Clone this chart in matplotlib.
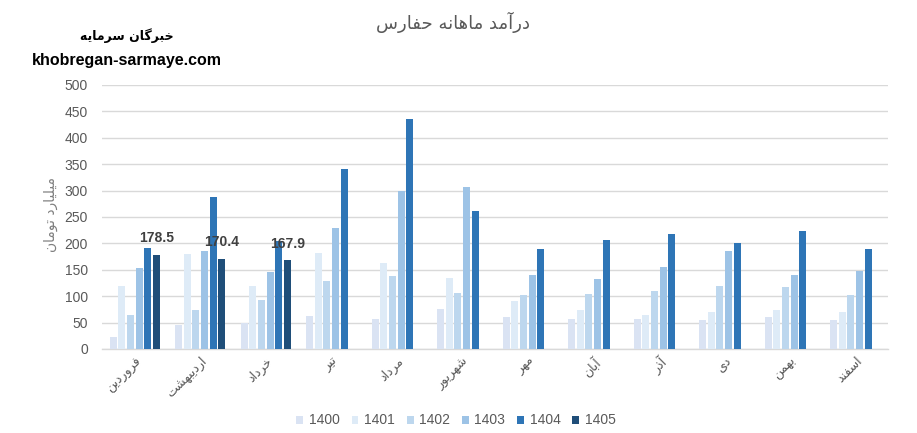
import matplotlib
matplotlib.use('Agg')
import matplotlib.pyplot as plt
from matplotlib.patches import Patch
import numpy as np

# ---------------- data ----------------
months = ['فروردین', 'اردیبهشت', 'خرداد', 'تیر', 'مرداد', 'شهریور',
          'مهر', 'آبان', 'آذر', 'دی', 'بهمن', 'اسفند']
years = ['1400', '1401', '1402', '1403', '1404', '1405']
v1400 = [23, 46, 49, 63, 56, 75, 61, 57, 57, 54, 61, 54]
v1401 = [120, 179, 120, 182, 162, 135, 90, 73, 65, 71, 73, 71]
v1402 = [65, 73, 93, 129, 139, 107, 103, 105, 109, 120, 118, 103]
v1403 = [154, 186, 145, 230, 300, 307, 141, 133, 156, 186, 141, 148]
v1404 = [192, 287, 205, 340, 436, 262, 190, 207, 217, 201, 224, 190]
v1405 = [178.5, 170.4, 167.9]
yticks = [0, 50, 100, 150, 200, 250, 300, 350, 400, 450, 500]
title = 'درآمد ماهانه حفارس'
ylabel = 'میلیارد تومان'
brand_fa = 'خبرگان سرمایه'
brand_en = 'khobregan-sarmaye.com'

series = [v1400, v1401, v1402, v1403, v1404, v1405]
colors = ['#dae3f3', '#deebf7', '#bdd7ee', '#9dc3e6', '#2e75b6', '#1f4e79']

# ------------- minimal Persian shaping (presentation forms) -------------
FORMS = {
    'ا': ('\uFE8D', '\uFE8E', None, None),
    'آ': ('\uFE81', '\uFE82', None, None),
    'ب': ('\uFE8F', '\uFE90', '\uFE91', '\uFE92'),
    'پ': ('\uFB56', '\uFB57', '\uFB58', '\uFB59'),
    'ت': ('\uFE95', '\uFE96', '\uFE97', '\uFE98'),
    'ث': ('\uFE99', '\uFE9A', '\uFE9B', '\uFE9C'),
    'ج': ('\uFE9D', '\uFE9E', '\uFE9F', '\uFEA0'),
    'چ': ('\uFB7A', '\uFB7B', '\uFB7C', '\uFB7D'),
    'ح': ('\uFEA1', '\uFEA2', '\uFEA3', '\uFEA4'),
    'خ': ('\uFEA5', '\uFEA6', '\uFEA7', '\uFEA8'),
    'د': ('\uFEA9', '\uFEAA', None, None),
    'ذ': ('\uFEAB', '\uFEAC', None, None),
    'ر': ('\uFEAD', '\uFEAE', None, None),
    'ز': ('\uFEAF', '\uFEB0', None, None),
    'ژ': ('\uFB8A', '\uFB8B', None, None),
    'س': ('\uFEB1', '\uFEB2', '\uFEB3', '\uFEB4'),
    'ش': ('\uFEB5', '\uFEB6', '\uFEB7', '\uFEB8'),
    'ص': ('\uFEB9', '\uFEBA', '\uFEBB', '\uFEBC'),
    'ض': ('\uFEBD', '\uFEBE', '\uFEBF', '\uFEC0'),
    'ط': ('\uFEC1', '\uFEC2', '\uFEC3', '\uFEC4'),
    'ظ': ('\uFEC5', '\uFEC6', '\uFEC7', '\uFEC8'),
    'ع': ('\uFEC9', '\uFECA', '\uFECB', '\uFECC'),
    'غ': ('\uFECD', '\uFECE', '\uFECF', '\uFED0'),
    'ف': ('\uFED1', '\uFED2', '\uFED3', '\uFED4'),
    'ق': ('\uFED5', '\uFED6', '\uFED7', '\uFED8'),
    'ک': ('\uFB8E', '\uFB8F', '\uFB90', '\uFB91'),
    'گ': ('\uFB92', '\uFB93', '\uFB94', '\uFB95'),
    'ل': ('\uFEDD', '\uFEDE', '\uFEDF', '\uFEE0'),
    'م': ('\uFEE1', '\uFEE2', '\uFEE3', '\uFEE4'),
    'ن': ('\uFEE5', '\uFEE6', '\uFEE7', '\uFEE8'),
    'و': ('\uFEED', '\uFEEE', None, None),
    'ه': ('\uFEE9', '\uFEEA', '\uFEEB', '\uFEEC'),
    'ی': ('\uFBFC', '\uFBFD', '\uFBFE', '\uFBFF'),
}


def shape(text):
    try:
        import arabic_reshaper
        from bidi.algorithm import get_display
        return get_display(arabic_reshaper.reshape(text))
    except Exception:
        pass
    out = []
    n = len(text)
    for i, ch in enumerate(text):
        f = FORMS.get(ch)
        if f is None:
            out.append(ch)
            continue
        prev = text[i - 1] if i > 0 else None
        nxt = text[i + 1] if i < n - 1 else None
        join_prev = prev in FORMS and FORMS[prev][2] is not None
        join_next = f[2] is not None and nxt in FORMS
        if join_prev and join_next:
            out.append(f[3])
        elif join_prev:
            out.append(f[1])
        elif join_next:
            out.append(f[2])
        else:
            out.append(f[0])
    return ''.join(out)[::-1]


FA = ['DejaVu Sans']
NUM = ['Liberation Sans', 'DejaVu Sans']
GRAY = '#595959'

# ---------------- figure ----------------
fig = plt.figure(figsize=(9.17, 4.33), dpi=100)
ax = fig.add_axes([102 / 917, 1 - 349 / 433, (888 - 102) / 917, (349 - 85) / 433])

x = np.arange(len(months))
slot = 0.131
bw = 0.107
for j, (vals, c) in enumerate(zip(series, colors)):
    xs = x[:len(vals)] + (j - 2.5) * slot
    bars = ax.bar(xs, vals, width=bw, color=c, zorder=3, label=years[j])
    if j == 5:
        for xi, v in zip(xs, vals):
            ax.annotate(f'{v:.1f}', (xi, v), xytext=(0, 7), textcoords='offset points',
                        ha='center', va='bottom', fontsize=10, fontweight='bold',
                        color='#404040', family=NUM, zorder=5)

ax.set_xlim(-0.5, len(months) - 0.5)
ax.set_ylim(0, 500)
ax.set_yticks(yticks)
ax.set_yticklabels([str(t) for t in yticks], family=NUM, fontsize=10, color=GRAY)
ax.grid(axis='y', color='#d9d9d9', linewidth=1.0, zorder=0)
ax.set_axisbelow(True)
for s in ['top', 'right', 'left']:
    ax.spines[s].set_visible(False)
ax.spines['bottom'].set_color('#d9d9d9')
ax.spines['bottom'].set_linewidth(1.0)
ax.tick_params(axis='both', length=0)
ax.tick_params(axis='y', pad=10)
ax.tick_params(axis='x', pad=4)
ax.set_xticks(x)
ax.set_xticklabels([shape(m) for m in months], rotation=45, ha='right',
                   rotation_mode='anchor', family=FA, fontsize=9, color=GRAY)

# y label
fig.text(51 / 917, 1 - 215 / 433, shape(ylabel), rotation=90, ha='center', va='center',
         family=FA, fontsize=10, color='#7f7f7f')

# title
fig.text(453 / 917, 1 - 22 / 433, shape(title), ha='center', va='center',
         family=FA, fontsize=13, color=GRAY)

# brand
fig.text(127 / 917, 1 - 36 / 433, shape(brand_fa), ha='center', va='center',
         family=FA, fontsize=9, fontweight='bold', color='black')
fig.text(127 / 917, 1 - 60 / 433, brand_en, ha='center', va='center',
         family=NUM, fontsize=11.5, fontweight='bold', color='black')

# legend
handles = [Patch(facecolor=c, edgecolor='none') for c in colors]
fig.legend(handles, years, loc='center', bbox_to_anchor=(456 / 917, 1 - 420.5 / 433),
           ncol=6, frameon=False, prop={'family': NUM, 'size': 10},
           labelcolor=GRAY, handlelength=0.5, handleheight=0.5, handletextpad=0.4,
           columnspacing=0.85, borderpad=0, borderaxespad=0)

fig.savefig('out.png', dpi=100)
